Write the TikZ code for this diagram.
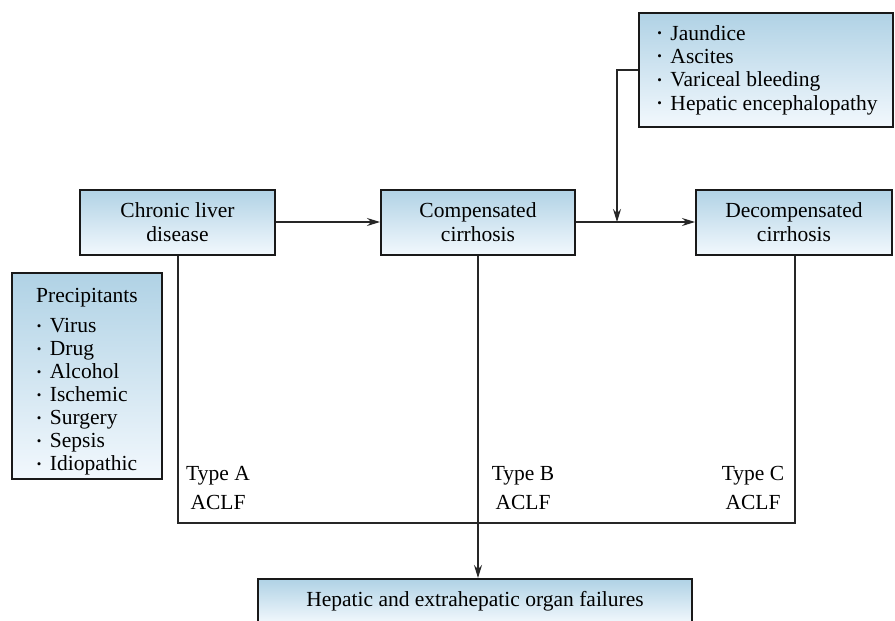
\documentclass[tikz,border=0pt]{standalone}
\usepackage{fontspec}
\setmainfont{Liberation Serif}
\usetikzlibrary{arrows.meta,shadows}
\definecolor{boxtop}{RGB}{176,210,229}
\definecolor{boxbot}{RGB}{242,248,253}
\newcommand{\bul}{\raisebox{0.28ex}{\scalebox{0.6}{•}}\hspace{0.4em}}
\tikzset{
  gbox/.style={draw=black!90, line width=2pt, top color=boxtop, bottom color=boxbot,
    inner sep=0pt, align=center, font=\fontsize{21.5}{24}\selectfont,
    drop shadow={shadow xshift=1pt, shadow yshift=-1pt, fill=black!70, opacity=1}},
  conn/.style={line width=1.3pt, draw=black!85},
  arr/.style={conn, -{Stealth[length=13pt,width=8pt]}},
  lbl/.style={font=\fontsize{21.5}{29}\selectfont, align=center, inner sep=0pt},
}
\begin{document}
\begin{tikzpicture}[x=1pt,y=-1pt]
\clip (0,0) rectangle (895,621);
\fill[white] (0,0) rectangle (895,621);
% boxes
\node[gbox, minimum width=195pt, minimum height=65pt] (cld) at (177.5,222) {Chronic liver\\disease};
\node[gbox, minimum width=194pt, minimum height=65pt] (cc) at (478,222) {Compensated\\cirrhosis};
\node[gbox, minimum width=196pt, minimum height=65pt] (dc) at (794,222) {Decompensated\\cirrhosis};
\node[gbox, minimum width=254pt, minimum height=114pt, align=left, font=\fontsize{21.5}{23.3}\selectfont] (sym) at (766,70)
  {\hspace{3pt}\bul Jaundice\\\hspace{3pt}\bul Ascites\\\hspace{3pt}\bul Variceal bleeding\\\hspace{3pt}\bul Hepatic encephalopathy};
\node[gbox, minimum width=150pt, minimum height=206pt, font=\fontsize{21.5}{23}\selectfont] (prec) at (87,376)
  {\mbox{}\\[5pt]Precipitants\\[9pt]
   \begin{tabular}{@{}l@{}}\bul Virus\\\bul Drug\\\bul Alcohol\\\bul Ischemic\\\bul Surgery\\\bul Sepsis\\\bul Idiopathic\end{tabular}};
\node[gbox, minimum width=434pt, minimum height=44pt] (fail) at (475,601)
  {Hepatic and extrahepatic organ failures};
% connectors
\draw[arr] (cld.east) -- (cc.west);
\draw[arr] (cc.east) -- (dc.west);
\coordinate (jn) at (617,222);
\draw[arr] (sym.west) -| (jn);
\coordinate (la) at (178,523);
\coordinate (lc) at (795,523);
\draw[conn] (cld.south -| la) -- (la) -- (lc) -- (dc.south -| lc);
\draw[arr] (cc.south -| 478,0) -- (fail.north -| 478,0);
% labels
\node[lbl] (ta) at (218,488) {Type A\\ACLF};
\node[lbl] (tb) at (523,488) {Type B\\ACLF};
\node[lbl] (tc) at (753,488) {Type C\\ACLF};
\end{tikzpicture}
\end{document}
